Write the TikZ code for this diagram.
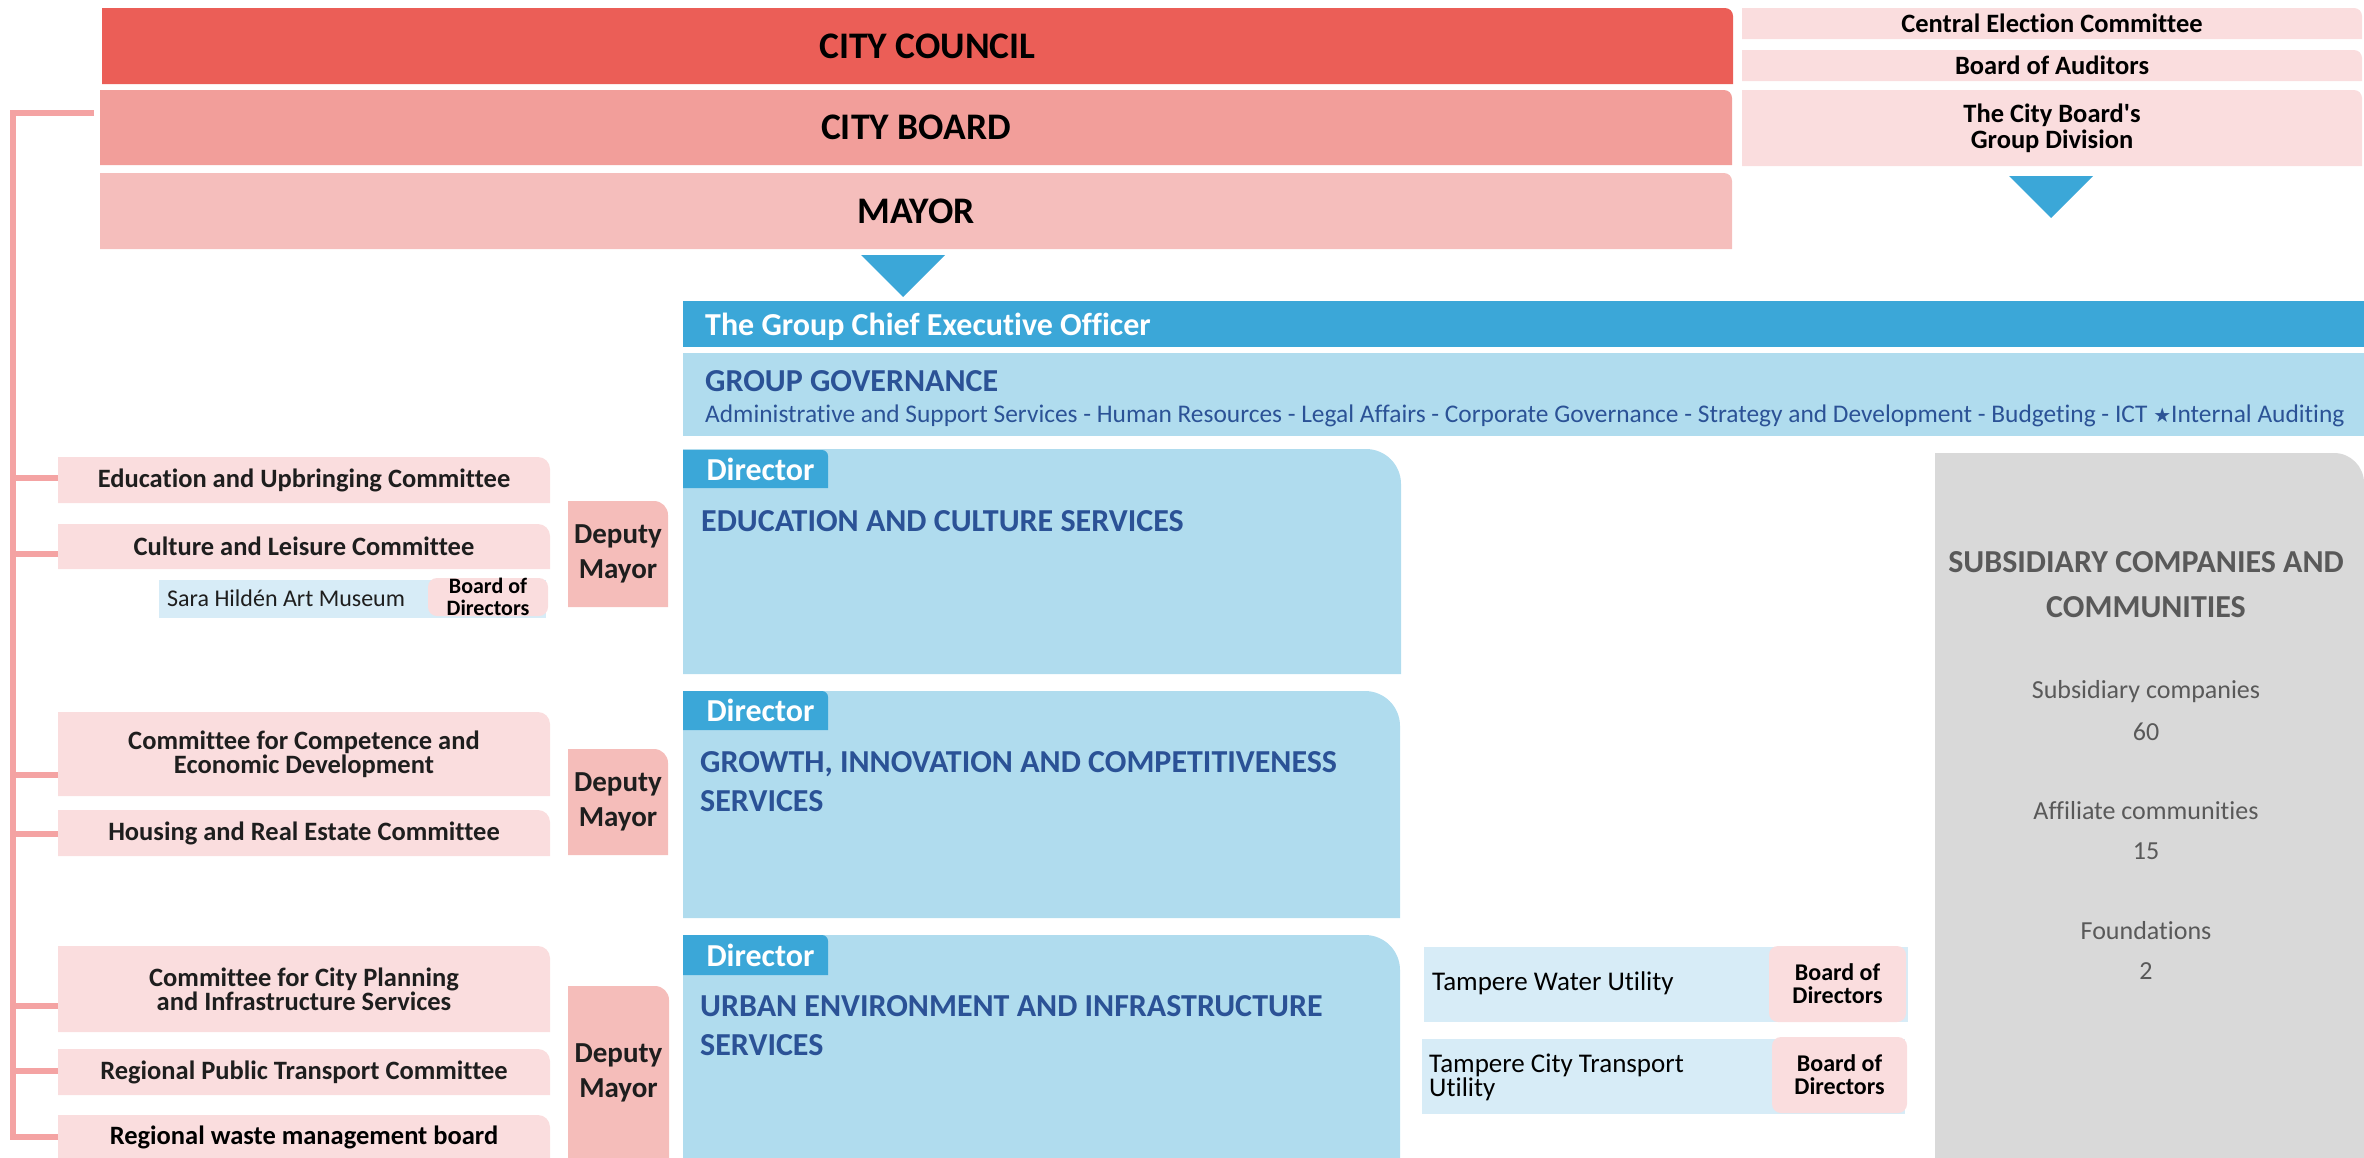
\documentclass[tikz,border=0pt]{standalone}
\usepackage{fontspec}
\setmainfont{Carlito}
\newfontfamily\carl{Carlito}[Ligatures=NoCommon]
\newfontfamily\symfont{DejaVu Sans}
\usetikzlibrary{calc}
\definecolor{cCouncil}{HTML}{EB5E57}
\definecolor{cBoard}{HTML}{F29E9A}
\definecolor{cMayor}{HTML}{F5BEBC}
\definecolor{cPink}{HTML}{FADDDE}
\definecolor{cDeputy}{HTML}{F5BDBA}
\definecolor{cBlue}{HTML}{3BA7D8}
\definecolor{cLight}{HTML}{B0DCEE}
\definecolor{cPale}{HTML}{D7ECF7}
\definecolor{cGrey}{HTML}{D9D9D9}
\definecolor{cNavy}{HTML}{2B5296}
\definecolor{cGText}{HTML}{595959}
\definecolor{cDark}{HTML}{1E1E1E}
\definecolor{cSpine}{HTML}{F4A3A3}
\newcommand{\fsz}[2]{\carl\fontsize{#1}{#2}\selectfont}
% box with rounded top-right corner: name, colour, x1, y1, x2, y2, radius, node options, text
\newcommand{\trbox}[9]{%
  \fill[#2] (#3,#4) -- ({#5-#7},#4) arc[start angle=-90,end angle=0,radius=#7] -- (#5,#6) -- (#3,#6) -- cycle;
  \node[inner sep=0pt,outer sep=0pt,align=center,minimum width={(#5-#3)*1pt},minimum height={(#6-#4)*1pt},#8] (#1) at ({(#3+#5)/2},{(#4+#6)/2}) {#9};}
\tikzset{
  big/.style={font=\fsz{37.5}{45}\bfseries,text=black},
  side/.style={font=\fsz{26.5}{26}\bfseries,text=black},
  cmt/.style={font=\fsz{26.5}{22}\bfseries,text=cDark},
  dep/.style={font=\fsz{29}{35}\bfseries,text=cDark},
  tab/.style={font=\fsz{32}{34}\bfseries,text=white},
  svc/.style={inner sep=0pt,anchor=west,align=left,font=\fsz{32}{39}\bfseries,text=cNavy},
  lbl/.style={inner sep=0pt,anchor=west,align=left},
  bod/.style={inner sep=0pt,align=center,fill=cPink,rounded corners=9pt,font=\fsz{24}{23}\bfseries,text=black},
  unit/.style={inner sep=0pt,anchor=north west,fill=cPale},
  stat/.style={inner sep=0pt,font=\fsz{26}{30},text=cGText},
  spine/.style={draw=cSpine,line width=6pt},
  tri/.style={fill=cBlue}
}
\begin{document}
\begin{tikzpicture}[x=1pt,y=-1pt]
\useasboundingbox (0,0) rectangle (2364,1157);
\clip (0,0) rectangle (2364,1157);
% top rows
\trbox{council}{cCouncil}{102}{8}{1733}{84}{8}{big}{\hspace*{20pt}CITY COUNCIL}
\trbox{board}{cBoard}{100}{90}{1732}{165}{8}{big}{CITY BOARD}
\trbox{mayor}{cMayor}{100}{173}{1732}{249}{8}{big}{MAYOR}
\trbox{cec}{cPink}{1742}{8}{2362}{39}{8}{side}{Central Election Committee}
\trbox{boa}{cPink}{1742}{50}{2362}{81}{8}{side}{Board of Auditors}
\trbox{gdiv}{cPink}{1742}{90}{2362}{166}{8}{side}{The City Board's\\ Group Division}
% triangles
\coordinate (t1a) at (861,255); \coordinate (t1b) at (945,255); \coordinate (t1c) at (903,297);
\fill[tri] (t1a) -- (t1b) -- (t1c) -- cycle;
\coordinate (t2a) at (2009,176); \coordinate (t2b) at (2093,176); \coordinate (t2c) at (2051,218);
\fill[tri] (t2a) -- (t2b) -- (t2c) -- cycle;
% group CEO and governance
\node[fill=cBlue,inner sep=0pt,anchor=north west,minimum width=1681pt,minimum height=46pt] (gceo) at (683,301) {};
\node[lbl,font=\fsz{32}{34}\bfseries,text=white] (gceoT) at (705,327) {The Group Chief Executive Officer};
\node[fill=cLight,inner sep=0pt,anchor=north west,minimum width=1681pt,minimum height=83pt] (gg) at (683,353) {};
\node[lbl,font=\fsz{32}{34}\bfseries,text=cNavy] (ggT) at (705,381) {GROUP GOVERNANCE};
\node[lbl,font=\fsz{25.4}{28},text=cNavy] (ggL) at (705,416) {Administrative and Support Services - Human Resources - Legal Affairs - Corporate Governance - Strategy and Development - Budgeting - ICT {\symfont\fontsize{20}{24}\selectfont ★}Internal Auditing};
% service areas
\trbox{ecs}{cLight}{683}{449}{1401}{674}{35}{}{}
\trbox{dir1}{cBlue}{683}{450}{828}{488}{6}{tab}{\hspace*{10pt}Director}
\node[svc] (ecsT) at (701,521) {EDUCATION AND CULTURE SERVICES};
\trbox{gic}{cLight}{683}{691}{1400}{918}{35}{}{}
\trbox{dir2}{cBlue}{683}{691}{828}{730}{6}{tab}{\hspace*{10pt}Director}
\node[svc] (gicT) at (700,782) {GROWTH, INNOVATION AND COMPETITIVENESS\\SERVICES};
\trbox{uei}{cLight}{683}{935}{1400}{1160}{35}{}{}
\trbox{dir3}{cBlue}{683}{935}{828}{975}{6}{tab}{\hspace*{10pt}Director}
\node[svc] (ueiT) at (700,1026) {URBAN ENVIRONMENT AND INFRASTRUCTURE\\SERVICES};
% utilities
\node[unit,minimum width=484pt,minimum height=75pt] (water) at (1424,947) {};
\node[lbl,font=\fsz{27}{23}] (waterT) at (1432,983) {Tampere Water Utility};
\node[bod,minimum width=137pt,minimum height=76pt] (waterB) at (1837.5,984) {Board of\\Directors};
\node[unit,minimum width=483pt,minimum height=75pt] (transp) at (1422,1039) {};
\node[lbl,font=\fsz{27}{23}] (transpT) at (1429,1077) {Tampere City Transport\\Utility};
\node[bod,minimum width=135pt,minimum height=76pt] (transpB) at (1839.5,1075) {Board of\\Directors};
% subsidiary companies
\trbox{subs}{cGrey}{1935}{453}{2364}{1160}{30}{}{}
\node[inner sep=0pt,align=center,font=\fsz{32}{45}\bfseries,text=cGText] (subsT) at (2146,585) {SUBSIDIARY COMPANIES AND\\COMMUNITIES};
\node[stat] (s1) at (2146,692) {Subsidiary companies};
\node[stat] (s1n) at (2146,732) {60};
\node[stat] (s2) at (2146,811) {Affiliate communities};
\node[stat] (s2n) at (2146,851) {15};
\node[stat] (s3) at (2146,931) {Foundations};
\node[stat] (s3n) at (2146,971) {2};
% committees
\trbox{edu}{cPink}{58}{457}{550}{503}{12}{cmt}{Education and Upbringing Committee}
\trbox{cul}{cPink}{58}{524}{550}{569}{12}{cmt}{Culture and Leisure Committee}
\node[unit,minimum width=387pt,minimum height=38pt] (sara) at (159,580) {};
\node[lbl,font=\fsz{24}{24},text=cDark] (saraT) at (167,598) {Sara Hildén Art Museum};
\node[bod,minimum width=120pt,minimum height=38pt,font=\fsz{22}{22}\bfseries] (saraB) at (488,597) {Board of\\Directors};
\trbox{dep1}{cDeputy}{568}{501}{668}{607}{14}{dep}{Deputy\\Mayor}
\trbox{comp}{cPink}{58}{712}{550}{796}{12}{cmt}{Committee for Competence and\\Economic Development}
\trbox{hous}{cPink}{58}{810}{550}{856}{12}{cmt}{Housing and Real Estate Committee}
\trbox{dep2}{cDeputy}{568}{749}{668}{855}{14}{dep}{Deputy\\Mayor}
\trbox{plan}{cPink}{58}{946}{550}{1032}{12}{cmt}{Committee for City Planning\\and Infrastructure Services}
\trbox{rpt}{cPink}{58}{1049}{550}{1095}{12}{cmt}{Regional Public Transport Committee}
\trbox{waste}{cPink}{58}{1115}{550}{1159}{12}{cmt,text=black}{Regional waste management board}
\trbox{dep3}{cDeputy}{568}{986}{669}{1160}{14}{dep}{Deputy\\Mayor}
% spine
\coordinate (spBoard) at (94,113);
\coordinate (spTop) at (13,113);
\coordinate (spBot) at (13,1140);
\draw[spine] (spBoard) -- (spTop) -- (spBot);
\coordinate (c1) at (13,478);  \draw[spine] (c1) -- (c1 -| edu.west);
\coordinate (c2) at (13,554);  \draw[spine] (c2) -- (c2 -| cul.west);
\coordinate (c3) at (13,775);  \draw[spine] (c3) -- (c3 -| comp.west);
\coordinate (c4) at (13,834);  \draw[spine] (c4) -- (c4 -| hous.west);
\coordinate (c5) at (13,1006); \draw[spine] (c5) -- (c5 -| plan.west);
\coordinate (c6) at (13,1071); \draw[spine] (c6) -- (c6 -| rpt.west);
\coordinate (c7) at (13,1137); \draw[spine] (c7) -- (c7 -| waste.west);
\end{tikzpicture}
\end{document}
